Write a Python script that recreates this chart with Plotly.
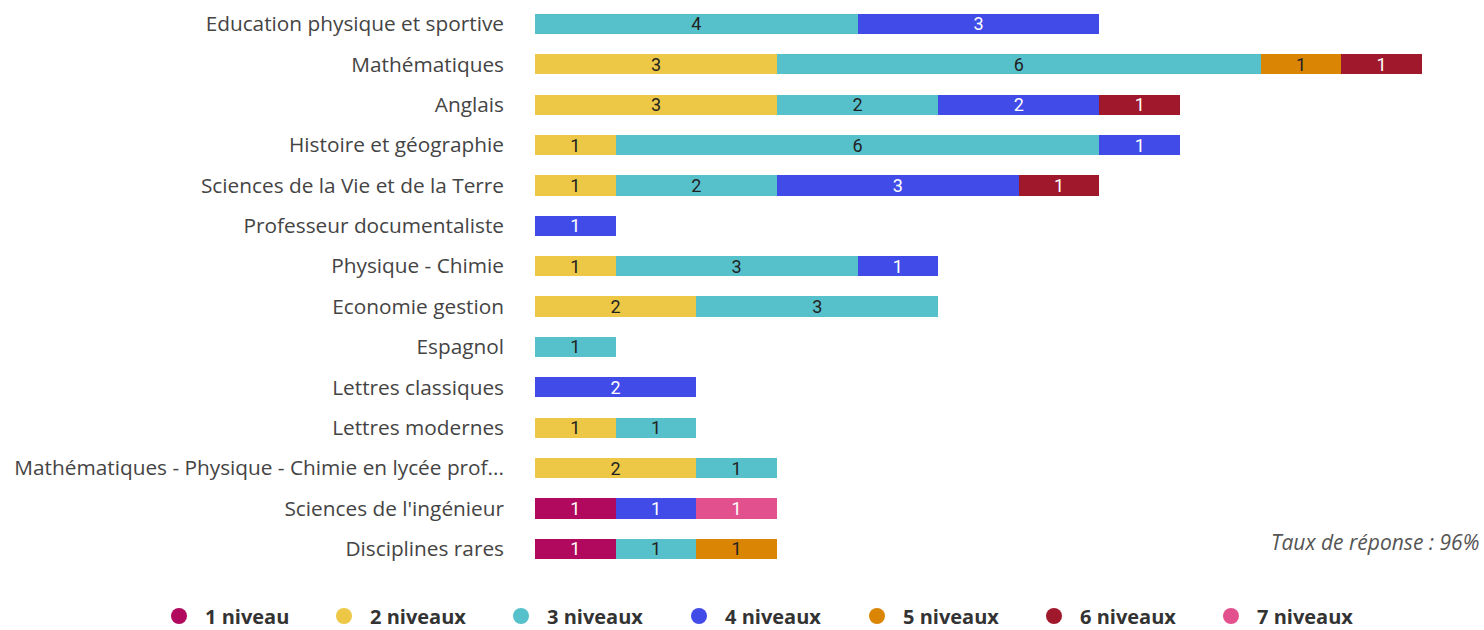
import plotly.graph_objects as go

categories = [
    "Education physique et sportive",
    "Mathématiques",
    "Anglais",
    "Histoire et géographie",
    "Sciences de la Vie et de la Terre",
    "Professeur documentaliste",
    "Physique - Chimie",
    "Economie gestion",
    "Espagnol",
    "Lettres classiques",
    "Lettres modernes",
    "Mathématiques - Physique - Chimie en lycée prof...",
    "Sciences de l'ingénieur",
    "Disciplines rares",
]

series_names = ["1 niveau", "2 niveaux", "3 niveaux", "4 niveaux", "5 niveaux", "6 niveaux", "7 niveaux"]

niv1 = [None, None, None, None, None, None, None, None, None, None, None, None, 1, 1]
niv2 = [None, 3, 3, 1, 1, None, 1, 2, None, None, 1, 2, None, None]
niv3 = [4, 6, 2, 6, 2, None, 3, 3, 1, None, 1, 1, None, 1]
niv4 = [3, None, 2, 1, 3, 1, 1, None, None, 2, None, None, 1, None]
niv5 = [None, 1, None, None, None, None, None, None, None, None, None, None, None, 1]
niv6 = [None, 1, 1, None, 1, None, None, None, None, None, None, None, None, None]
niv7 = [None, None, None, None, None, None, None, None, None, None, None, None, 1, None]

series_values = [niv1, niv2, niv3, niv4, niv5, niv6, niv7]
colors = ["#B0095E", "#ECC846", "#56C1CB", "#414CE8", "#DB8504", "#A0182C", "#E2518D"]
text_colors = ["#FFFFFF", "#222222", "#222222", "#FFFFFF", "#222222", "#FFFFFF", "#FFFFFF"]

# left edge (px) of each legend entry
legend_left_px = [153, 318, 495, 673, 851, 1028, 1205]

W, H = 1484, 630

fig = go.Figure()
for name, vals, col, tcol in zip(series_names, series_values, colors, text_colors):
    fig.add_trace(go.Bar(
        y=categories, x=vals, name=name, orientation="h",
        marker=dict(color=col, line=dict(width=0)),
        texttemplate="%{x}", textposition="inside", insidetextanchor="middle",
        textangle=0, constraintext="none",
        textfont=dict(color=tcol, size=18, family="Liberation Sans Narrow, Roboto, sans-serif"),
        showlegend=False, hoverinfo="x+y+name",
    ))

legend_layouts = {}
for i, (name, col, lx) in enumerate(zip(series_names, colors, legend_left_px)):
    key = "legend" if i == 0 else f"legend{i + 1}"
    fig.add_trace(go.Scatter(
        x=[None], y=[None], mode="markers", name=name,
        marker=dict(color=col, size=22, symbol="circle"),
        showlegend=True, legend=key,
    ))
    legend_layouts[key] = dict(
        orientation="h", xref="container", yref="container",
        x=lx / W, xanchor="left", y=14 / H, yanchor="middle",
        font=dict(size=20, color="#333333", family="Open Sans, sans-serif", weight="bold"),
        itemwidth=42, bgcolor="rgba(0,0,0,0)",
    )

fig.update_layout(
    width=W, height=H,
    margin=dict(l=535, r=62, t=0, b=61),
    barmode="stack", bargap=0.5,
    plot_bgcolor="white", paper_bgcolor="white",
    font=dict(family="Open Sans, sans-serif", color="#444444"),
    annotations=[dict(
        text="<i>Taux de réponse : 96%</i>", xref="paper", yref="paper",
        x=1.0665, y=0.047, xanchor="right", yanchor="middle", showarrow=False,
        font=dict(size=21, color="#555555", family="Open Sans, sans-serif"),
    )],
    **legend_layouts,
)
fig.update_xaxes(range=[0, 11], visible=False, fixedrange=True)
fig.update_yaxes(
    categoryorder="array", categoryarray=categories, range=[13.5, -0.594],
    showgrid=False, zeroline=False, showline=False, ticks="",
    tickfont=dict(size=20.8, color="#444444", family="Open Sans, sans-serif"),
    ticklabelstandoff=30, automargin=False,
)

fig.write_html(
    "out.html",
    config={"displayModeBar": False},
    post_script="document.body.style.margin='0';document.body.style.overflow='hidden';",
)
